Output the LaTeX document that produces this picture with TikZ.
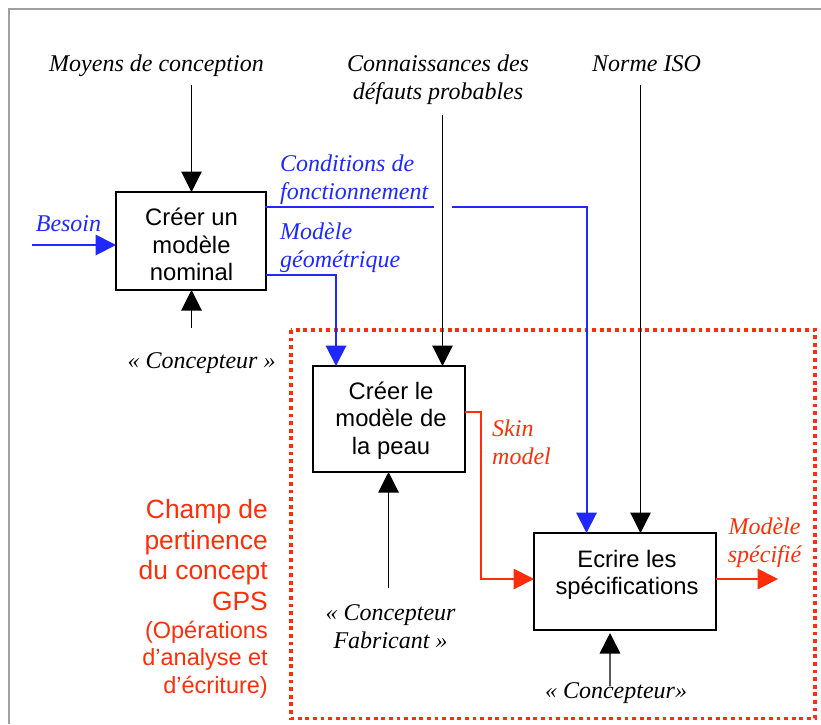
\documentclass[tikz,border=0pt]{standalone}
\usepackage{fontspec}
\setmainfont{Liberation Serif}
\setsansfont{Liberation Sans}
\usetikzlibrary{arrows.meta}
\definecolor{mblue}{RGB}{30,40,255}
\definecolor{mred}{RGB}{255,45,10}
\definecolor{frameg}{RGB}{160,160,160}
\newcommand{\lbl}{\fontsize{24}{28}\selectfont\itshape}
\newcommand{\sfl}{\fontsize{23.8}{27.3}\selectfont\sffamily}
\tikzset{
  x=1pt,y=-1pt,
  procbox/.style={draw=black,line width=1.8pt,fill=white,inner sep=0pt,outer sep=0pt,anchor=north west,align=center},
  lab/.style={inner sep=0pt,align=center,font=\lbl,text=black},
  labl/.style={lab,align=left,anchor=west},
  tip/.style={-{Triangle[length=20.5pt,width=20.5pt]}},
  thin line/.style={line width=1.1pt,tip,black},
  blue line/.style={line width=2pt,tip,mblue},
  red line/.style={line width=2pt,tip,mred},
}
\begin{document}
\begin{tikzpicture}
\useasboundingbox (0,0) rectangle (821,724);
\draw[frameg,line width=1.1pt] (9,724) -- (9,9) -- (821,9);
% dotted field
\draw[mred,line width=3.6pt,dash pattern=on 3.8pt off 3.8pt] (291,330) rectangle (815,718.5);
% boxes
\node[procbox,minimum width=150pt,minimum height=98pt,font=\sfl] (b1) at (116,192) {};
\node[font=\sfl,align=center,inner sep=0pt] (t1) at (191.5,244.5) {Créer un\\modèle\\nominal};
\node[procbox,minimum width=152pt,minimum height=106pt] (b2) at (313,366) {};
\node[font=\sfl,align=center,inner sep=0pt] (t2) at (391,420.5) {Créer le\\modèle de\\la peau};
\node[procbox,minimum width=182pt,minimum height=97pt] (b3) at (534,533) {};
\node[font=\sfl,align=center,inner sep=0pt] (t3) at (627,575) {Ecrire les\\spécifications};
% free ends
\coordinate (m1) at (191.5,85);
\coordinate (c1) at (191.5,328);
\coordinate (bs) at (32,245);
\coordinate (k1) at (442.5,115);
\coordinate (n1) at (640.5,85);
\coordinate (c2) at (388.5,588);
\coordinate (c3) at (610,686);
\coordinate (c3t) at (610,633);
\coordinate (ms) at (778,579);
% black arrows
\draw[thin line] (m1) -- (m1 |- b1.north);
\draw[thin line] (c1) -- (c1 |- b1.south);
\draw[thin line] (k1) -- (k1 |- b2.north);
\draw[thin line] (n1) -- (n1 |- b3.north);
\draw[thin line] (c2) -- (c2 |- b2.south);
\draw[thin line,draw=black!65,fill=black,line width=1.6pt,-{Triangle[length=20.5pt,width=20.5pt,color=black]}] (c3) -- (c3t);
% blue arrows
\draw[blue line] (bs) -- (bs -| b1.west);
\coordinate (g1) at (266,275);
\draw[blue line] (g1) -- (336,275) -- (336 ,366);
\coordinate (f1) at (265,206.5);
\coordinate (f2) at (434,206.5);
\coordinate (f3) at (452,206.5);
\draw[mblue,line width=2pt] (f1) -- (f2);
\draw[blue line] (f3) -- (586.5,206.5) -- (586.5,533);
% red arrows
\coordinate (s1) at (465,411.5);
\draw[red line] (s1) -- (481,411.5) -- (481,579) -- (b3.west |- 0,579);
\draw[red line] (b3.east |- 0,579) -- (ms);
% labels
\node[lab] (l1) at (156.5,66) {Moyens de conception};
\node[lab] (l2) at (438,80) {Connaissances des\\défauts probables};
\node[lab] (l3) at (646.5,63.5) {Norme ISO};
\node[labl,text=mblue] (l4) at (280,179.5) {Conditions de\\fonctionnement};
\node[labl,text=mblue] (l5) at (280,247.5) {Modèle\\géométrique};
\node[lab,text=mblue] (l6) at (68.5,223.5) {Besoin};
\node[lab] (l7) at (201.5,363.5) {« Concepteur »};
\node[labl,text=mred] (l8) at (492,442.5) {Skin\\model};
\node[lab,text=mred] (l9) at (764.5,542.5) {Modèle\\spécifié};
\node[lab] (l10) at (390.5,627) {« Concepteur\\Fabricant »};
\node[lab] (l11) at (616,693.5) {« Concepteur»};
\node[inner sep=0pt,align=right,anchor=east,text=mred,font=\fontsize{26.4}{30.5}\selectfont\sffamily] (l12) at (268,555) {Champ de\\pertinence\\du concept\\GPS};
\node[inner sep=0pt,align=right,anchor=east,text=mred,font=\fontsize{23.5}{27.3}\selectfont\sffamily] (l13) at (268,659.5) {(Opérations\\d’analyse et\\d’écriture)};
\end{tikzpicture}
\end{document}
